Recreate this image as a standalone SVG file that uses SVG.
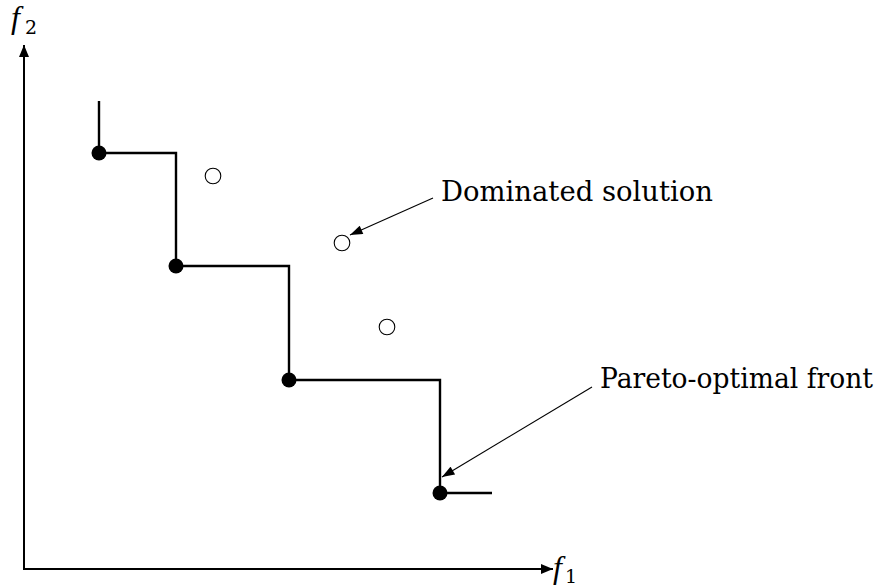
<svg xmlns="http://www.w3.org/2000/svg" width="883" height="587" viewBox="0 0 883 587">
  <style>
    .axis { stroke: #000; stroke-width: 2; fill: none; }
    .front { stroke: #000; stroke-width: 2.4; fill: none; }
    .lead { stroke: #000; stroke-width: 1.1; fill: none; }
    .opt { fill: #000; }
    .dom { fill: #fff; stroke: #000; stroke-width: 1.1; }
    .lbl { font-family: "DejaVu Serif", "Liberation Serif", serif; font-size: 27px; fill: #000; }
    .var { font-family: "Liberation Serif", "DejaVu Serif", serif; font-style: italic; fill: #000; }
    .sub { font-family: "DejaVu Serif", "Liberation Serif", serif; fill: #000; }
  </style>
  <defs>
    <marker id="axisHead" viewBox="0 0 12 10" refX="12" refY="5" markerWidth="12" markerHeight="10" markerUnits="userSpaceOnUse" orient="auto">
      <path d="M0,0 L12,5 L0,10 Z" fill="#000"/>
    </marker>
    <marker id="leadHead" viewBox="0 0 14 10" refX="14" refY="5" markerWidth="14" markerHeight="9" markerUnits="userSpaceOnUse" orient="auto">
      <path d="M0,0 L14,5 L0,10 Z" fill="#000"/>
    </marker>
  </defs>

  <!-- axes -->
  <g id="axes">
    <line class="axis" x1="24" y1="570" x2="24" y2="45" marker-end="url(#axisHead)"/>
    <line class="axis" x1="23" y1="569" x2="553" y2="569" marker-end="url(#axisHead)"/>
    <text class="var" x="11" y="28" font-size="32">f</text>
    <text class="sub" x="25" y="34" font-size="19">2</text>
    <text class="var" x="553" y="578" font-size="32">f</text>
    <text class="sub" x="565" y="583" font-size="19">1</text>
  </g>

  <!-- staircase of the Pareto front -->
  <g id="connectors">
    <path class="front" d="M99,101 V153 H176 V266 H289 V380 H440 V493 H492"/>
    <line class="lead" x1="433" y1="198" x2="350" y2="235" marker-end="url(#leadHead)"/>
    <line class="lead" x1="592" y1="387" x2="442" y2="477" marker-end="url(#leadHead)"/>
  </g>

  <!-- non-dominated points -->
  <g id="p1"><circle class="opt" cx="99" cy="153" r="7.5"/></g>
  <g id="p2"><circle class="opt" cx="176" cy="266" r="7.5"/></g>
  <g id="p3"><circle class="opt" cx="289" cy="380" r="7.5"/></g>
  <g id="p4"><circle class="opt" cx="440" cy="493" r="7.5"/></g>

  <!-- dominated points -->
  <g id="d1"><circle class="dom" cx="213" cy="176" r="7.8"/></g>
  <g id="d2"><circle class="dom" cx="342" cy="243" r="7.8"/></g>
  <g id="d3"><circle class="dom" cx="387" cy="327" r="7.8"/></g>

  <!-- labels -->
  <g id="label-dominated"><text class="lbl" x="441" y="201" textLength="272" lengthAdjust="spacingAndGlyphs">Dominated solution</text></g>
  <g id="label-front"><text class="lbl" x="600" y="388" textLength="273" lengthAdjust="spacingAndGlyphs">Pareto-optimal front</text></g>
</svg>
